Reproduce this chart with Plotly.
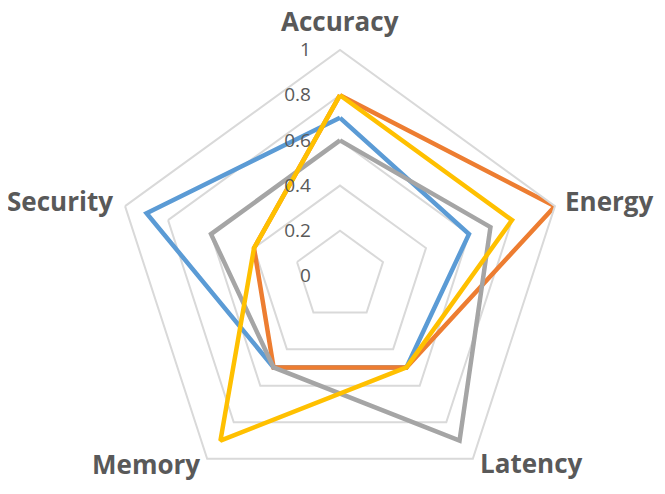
import plotly.graph_objects as go

categories = ["Accuracy", "Energy", "Latency", "Memory", "Security"]
series_names = ["Series 1", "Series 2", "Series 3", "Series 4"]
blue_vals = [0.7, 0.6, 0.5, 0.5, 0.9]
orange_vals = [0.8, 1.0, 0.5, 0.5, 0.4]
gray_vals = [0.6, 0.7, 0.9, 0.5, 0.6]
yellow_vals = [0.8, 0.8, 0.5, 0.9, 0.4]
tick_vals = [0, 0.2, 0.4, 0.6, 0.8, 1.0]
tick_text = ["0", "0.2", "0.4", "0.6", "0.8", "1"]

colors = ["#5B9BD5", "#ED7D31", "#A5A5A5", "#FFC000"]
all_vals = [blue_vals, orange_vals, gray_vals, yellow_vals]

fig = go.Figure()
for name, vals, col in zip(series_names, all_vals, colors):
    fig.add_trace(go.Scatterpolar(
        r=vals + vals[:1],
        theta=categories + categories[:1],
        mode="lines",
        name=name,
        line=dict(color=col, width=4.5),
        showlegend=False,
    ))

text_col = "#595959"
grid_col = "#D9D9D9"
W, H = 665, 494

# category labels placed around the pentagon (screen px -> paper)
label_pos = {
    "Accuracy": (339.5, 21, "center"),
    "Energy": (563, 201, "left"),
    "Latency": (531, 463, "center"),
    "Memory": (146, 464, "center"),
    "Security": (115, 201, "right"),
}
annotations = []
for cat in categories:
    sx, sy, anchor = label_pos[cat]
    annotations.append(dict(
        text=cat, xref="paper", yref="paper",
        x=(sx - 8) / W, y=1 - (sy - 8) / H,
        xanchor=anchor, yanchor="middle", showarrow=False,
        font=dict(family="Open Sans", size=26, color=text_col, weight="bold"),
    ))

fig.update_layout(
    width=W, height=H,
    margin=dict(l=0, r=0, t=0, b=0),
    paper_bgcolor="white",
    plot_bgcolor="white",
    annotations=annotations,
    polar=dict(
        domain=dict(x=[106 / W, 558 / W], y=[0, 452 / H]),
        bgcolor="white",
        gridshape="linear",
        radialaxis=dict(
            range=[0, 1],
            tickvals=tick_vals,
            ticktext=tick_text,
            angle=90,
            tickangle=90,
            side="counterclockwise",
            showline=False,
            gridcolor=grid_col,
            gridwidth=2,
            ticks="outside",
            ticklen=22,
            tickcolor="rgba(0,0,0,0)",
            tickfont=dict(family="Open Sans", size=19, color=text_col),
        ),
        angularaxis=dict(
            rotation=90,
            direction="clockwise",
            showgrid=False,
            showline=True,
            linecolor=grid_col,
            linewidth=2,
            ticks="",
            showticklabels=False,
        ),
    ),
)

fig.write_html("out.html")
